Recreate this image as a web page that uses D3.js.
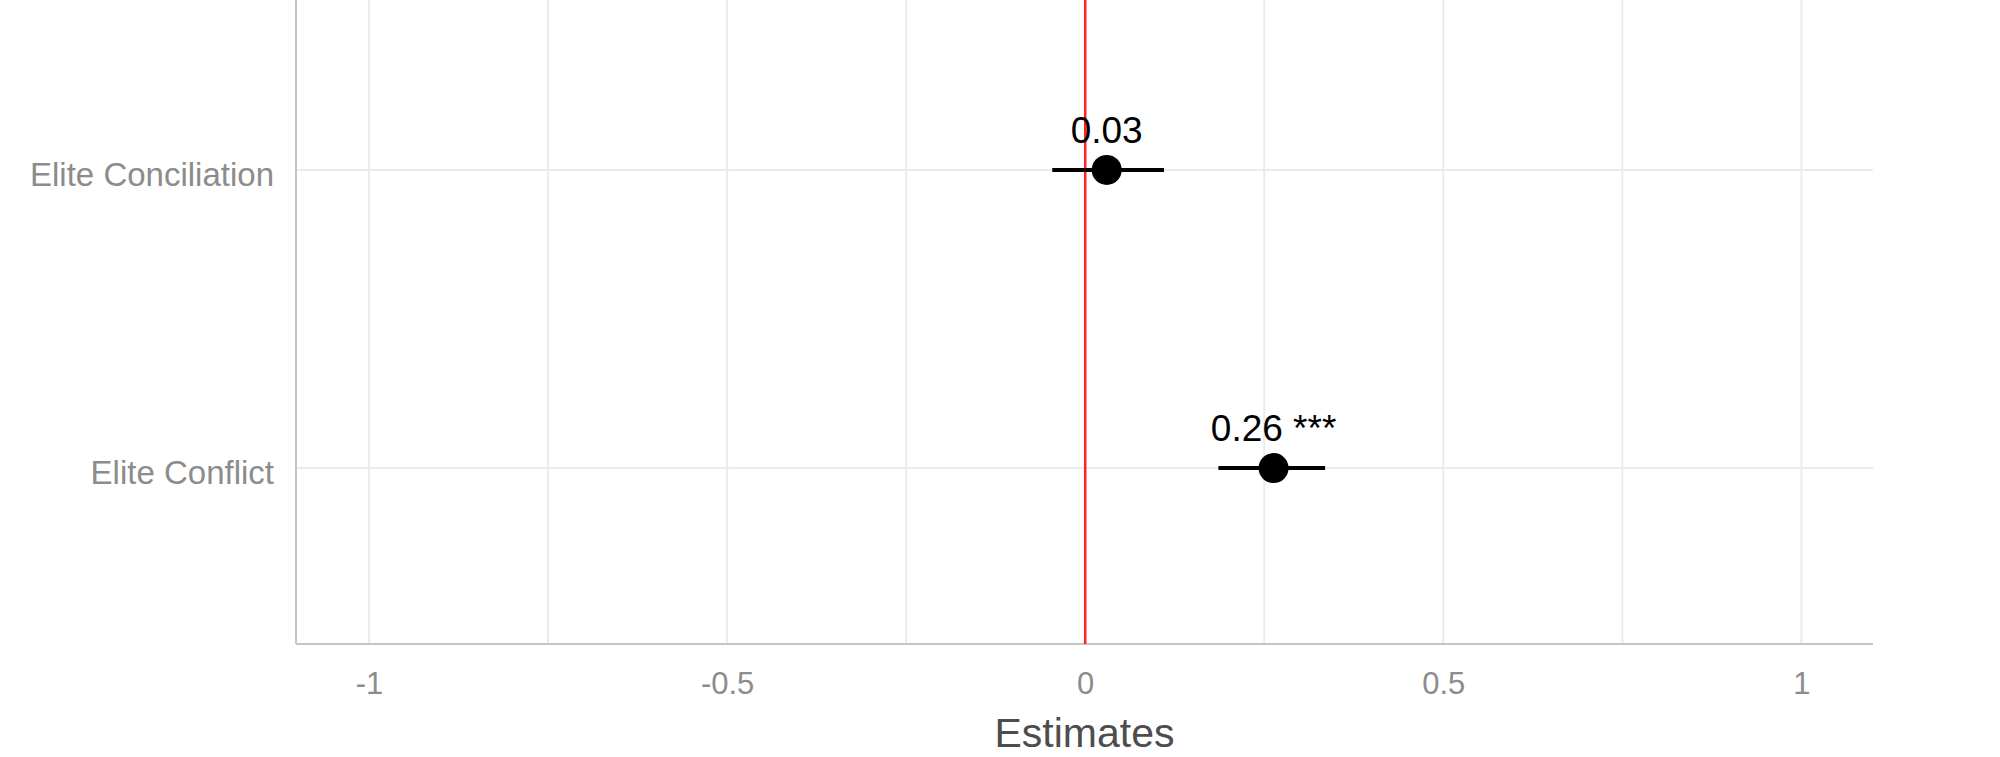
<!DOCTYPE html>
<html>
<head>
<meta charset="utf-8">
<script src="https://cdn.jsdelivr.net/npm/d3@7"></script>
<style>
  body { margin: 0; background: #fff; }
  svg { display: block; font-family: "Liberation Sans", Arial, sans-serif; }
</style>
</head>
<body>
<svg id="chart" width="2000" height="757"></svg>
<script>
const terms = ['Elite Conciliation', 'Elite Conflict'];
const estimates = [0.03, 0.263];
const ciLow = [-0.046, 0.186];
const ciHigh = [0.110, 0.335];
const labels = ['0.03', '0.26 ***'];
const xTicks = [-1, -0.5, 0, 0.5, 1];
const xMinor = [-0.75, -0.25, 0.25, 0.75];

const svg = d3.select('#chart');
const plotLeft = 296, plotRight = 1873, plotTop = -6, plotBottom = 644;

const x = d3.scaleLinear().domain([-1.102, 1.1]).range([plotLeft, plotRight]);
const y = d3.scalePoint().domain(terms).range([plotTop, plotBottom]).padding(0.59);

const grid = svg.append('g').attr('class', 'grid');
// vertical grid lines, major and minor
grid.selectAll('.vgrid')
  .data(xTicks.concat(xMinor))
  .enter()
  .append('line')
  .attr('x1', d => x(d)).attr('x2', d => x(d))
  .attr('y1', 0).attr('y2', plotBottom)
  .attr('stroke', '#ebebeb')
  .attr('stroke-width', 2);
// horizontal grid lines
grid.selectAll('.hgrid')
  .data(terms)
  .enter()
  .append('line')
  .attr('x1', plotLeft).attr('x2', plotRight)
  .attr('y1', d => y(d)).attr('y2', d => y(d))
  .attr('stroke', '#ebebeb')
  .attr('stroke-width', 2);

// axis lines
svg.append('line')
  .attr('x1', plotLeft).attr('x2', plotLeft)
  .attr('y1', 0).attr('y2', plotBottom)
  .attr('stroke', '#c4c4c4').attr('stroke-width', 2);
svg.append('line')
  .attr('x1', plotLeft).attr('x2', plotRight)
  .attr('y1', plotBottom).attr('y2', plotBottom)
  .attr('stroke', '#c4c4c4').attr('stroke-width', 2);

// zero reference line
svg.append('line')
  .attr('x1', x(0)).attr('x2', x(0))
  .attr('y1', 0).attr('y2', plotBottom)
  .attr('stroke', '#ff2020').attr('stroke-width', 2.5);

// x axis
const xAxis = svg.append('g')
  .attr('transform', `translate(0,${plotBottom})`)
  .call(d3.axisBottom(x).tickValues(xTicks).tickSize(0).tickPadding(28)
    .tickFormat(d => String(d)));
xAxis.select('.domain').remove();
xAxis.selectAll('text')
  .attr('font-size', 31)
  .attr('fill', '#8c8c8c')
  .attr('font-family', '"Liberation Sans", Arial, sans-serif');

// y axis
const yAxis = svg.append('g')
  .attr('transform', `translate(${plotLeft},5)`)
  .call(d3.axisLeft(y).tickSize(0).tickPadding(22));
yAxis.select('.domain').remove();
yAxis.selectAll('text')
  .attr('font-size', 33)
  .attr('fill', '#8c8c8c')
  .attr('font-family', '"Liberation Sans", Arial, sans-serif');

// axis title
svg.append('text')
  .attr('x', (plotLeft + plotRight) / 2)
  .attr('y', 747)
  .attr('text-anchor', 'middle')
  .attr('font-size', 41)
  .attr('fill', '#4d4d4d')
  .text('Estimates');

// error bars, points, value labels
const rows = terms.map((t, i) => ({ term: t, est: estimates[i], lo: ciLow[i], hi: ciHigh[i], label: labels[i] }));
const marks = svg.append('g').selectAll('g')
  .data(rows)
  .enter()
  .append('g');
marks.append('line')
  .attr('x1', d => x(d.lo)).attr('x2', d => x(d.hi))
  .attr('y1', d => y(d.term)).attr('y2', d => y(d.term))
  .attr('stroke', '#000').attr('stroke-width', 4);
marks.append('circle')
  .attr('cx', d => x(d.est))
  .attr('cy', d => y(d.term))
  .attr('r', 15)
  .attr('fill', '#000');
marks.append('text')
  .attr('x', d => x(d.est))
  .attr('y', d => y(d.term) - 27)
  .attr('text-anchor', 'middle')
  .attr('font-size', 37)
  .attr('fill', '#000')
  .text(d => d.label);
</script>
</body>
</html>
